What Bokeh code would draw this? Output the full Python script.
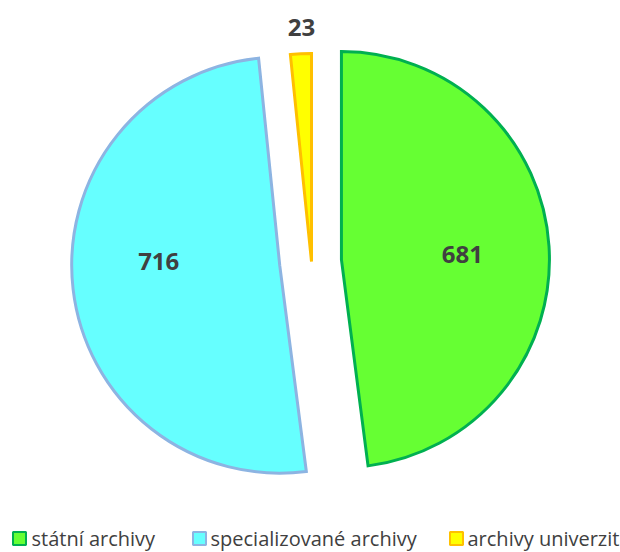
import math
from bokeh.plotting import figure
from bokeh.models import Range1d, ColumnDataSource
from bokeh.core.properties import value
from bokeh.embed import file_html
from bokeh.resources import INLINE

# ---- data ----
categories = ["státní archivy", "specializované archivy", "archivy univerzit"]
counts = [681, 716, 23]

# ---- styles ----
fills = ["#66FF33", "#66FFFF", "#FFFF00"]
borders = ["#00B050", "#8DB4E2", "#FFC000"]
explode = [30, 32, 0]
RADIUS = 208
CX, CY = 311, 291
# label offsets from each slice's apex (dx, dy), baseline alphabetic
label_offsets = [(121, 5.5), (-121, 3.7), (-10, 234)]
legend_sq_x = [19, 199, 456]
legend_tx_x = [31, 210, 467]
LEG_Y = 14

W, H = 620, 552
p = figure(width=W, height=H, output_backend="svg", toolbar_location=None,
           x_range=Range1d(0, W), y_range=Range1d(0, H),
           min_border=0)
p.axis.visible = False
p.grid.visible = False
p.outline_line_color = None
p.background_fill_color = "white"

total = sum(counts)
cum = 0.0
xs, ys, starts, ends, lx, ly, labels = [], [], [], [], [], [], []
for i, c in enumerate(counts):
    a0 = math.pi / 2 - 2 * math.pi * (cum + c) / total
    a1 = math.pi / 2 - 2 * math.pi * cum / total
    cum += c
    mid = (a0 + a1) / 2
    ax = CX + explode[i] * math.cos(mid)
    ay = CY + explode[i] * math.sin(mid)
    xs.append(ax); ys.append(ay); starts.append(a0); ends.append(a1)
    lx.append(ax + label_offsets[i][0]); ly.append(ay + label_offsets[i][1])
    labels.append(str(c))

src = ColumnDataSource(dict(x=xs, y=ys, s=starts, e=ends, fill=fills, line=borders))
p.wedge(x="x", y="y", radius=RADIUS, start_angle="s", end_angle="e",
        fill_color="fill", line_color="line", line_width=3, source=src,
        line_join="miter")

p.text(x=lx, y=ly, text=labels, text_font=value("Open Sans"), text_font_style="bold",
       text_font_size="24px", text_color="#404040", text_align="center",
       text_baseline="alphabetic")

# legend (manual)
p.rect(x=legend_sq_x, y=[LEG_Y] * 3, width=13, height=13, fill_color=fills,
       line_color=borders, line_width=2)
p.text(x=legend_tx_x, y=[LEG_Y] * 3, text=categories, text_font=value("Open Sans"),
       text_font_size="20px", text_color="#404040", text_align="left",
       text_baseline="middle")

open("out.html", "w").write(file_html(p, INLINE))
